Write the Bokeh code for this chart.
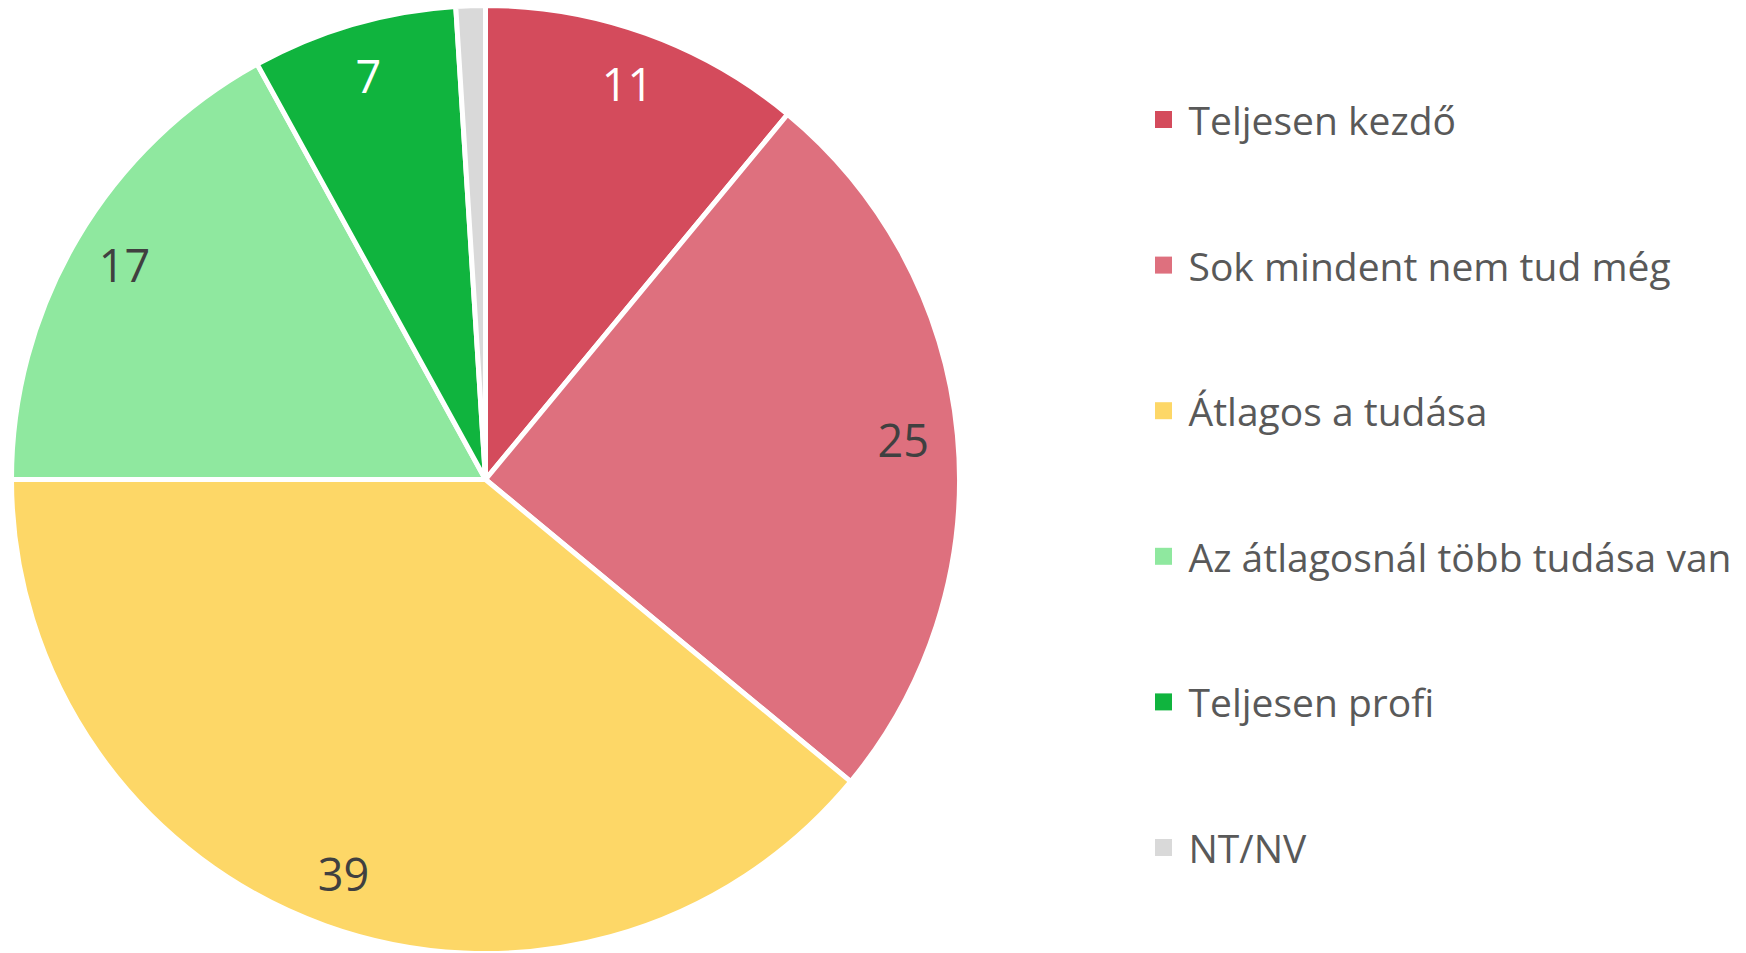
import math
from bokeh.plotting import figure
from bokeh.models import Range1d, ColumnDataSource
from bokeh.core.properties import value
from bokeh.embed import file_html
from bokeh.resources import INLINE

# ---- data ----
categories = ["Teljesen kezdő", "Sok mindent nem tud még", "Átlagos a tudása",
              "Az átlagosnál több tudása van", "Teljesen profi", "NT/NV"]
values = [11, 25, 39, 17, 7, 1]
colors = ["#D44B5C", "#DE707E", "#FDD767", "#8FE89F", "#10B43E", "#D9D9D9"]
label_colors = ["#FFFFFF", "#404040", "#404040", "#404040", "#FFFFFF", "#404040"]
show_label = [True, True, True, True, True, False]

W, H = 1746, 953
p = figure(width=W, height=H, output_backend="svg", toolbar_location=None,
           x_range=Range1d(0, W), y_range=Range1d(0, H), min_border=0)
p.axis.visible = False
p.grid.visible = False
p.outline_line_color = None
p.background_fill_color = "white"
p.border_fill_color = "white"

cx, cy, R = 485, 474, 474
total = sum(values)
starts, ends, lx, ly = [], [], [], []
cum = 0
for v in values:
    a0 = math.pi / 2 - 2 * math.pi * cum / total
    cum += v
    a1 = math.pi / 2 - 2 * math.pi * cum / total
    starts.append(a1)
    ends.append(a0)
    mid = (a0 + a1) / 2
    lx.append(cx + 0.885 * R * math.cos(mid))
    ly.append(cy + 0.885 * R * math.sin(mid))

src = ColumnDataSource(dict(start=starts, end=ends, color=colors))
p.wedge(x=cx, y=cy, radius=R, start_angle="start", end_angle="end",
        direction="anticlock", fill_color="color", line_color="white",
        line_width=5, source=src)

lab = ColumnDataSource(dict(
    x=[lx[i] for i in range(len(values)) if show_label[i]],
    y=[ly[i] for i in range(len(values)) if show_label[i]],
    t=[str(values[i]) for i in range(len(values)) if show_label[i]],
    c=[label_colors[i] for i in range(len(values)) if show_label[i]],
))
p.text(x="x", y="y", text="t", text_color="c", text_font=value("Open Sans"),
       text_font_size="45px", text_align="center", text_baseline="middle", source=lab)

# ---- legend ----
leg_y = [834 - 145.6 * i for i in range(len(categories))]
p.rect(x=[1163] * len(categories), y=leg_y, width=17, height=17,
       fill_color=colors, line_color=None)
p.text(x=[1188] * len(categories), y=leg_y, text=categories,
       text_color="#595959", text_font=value("Open Sans"),
       text_font_size="39px", text_align="left", text_baseline="middle")

open("out.html", "w").write(file_html(p, INLINE))
